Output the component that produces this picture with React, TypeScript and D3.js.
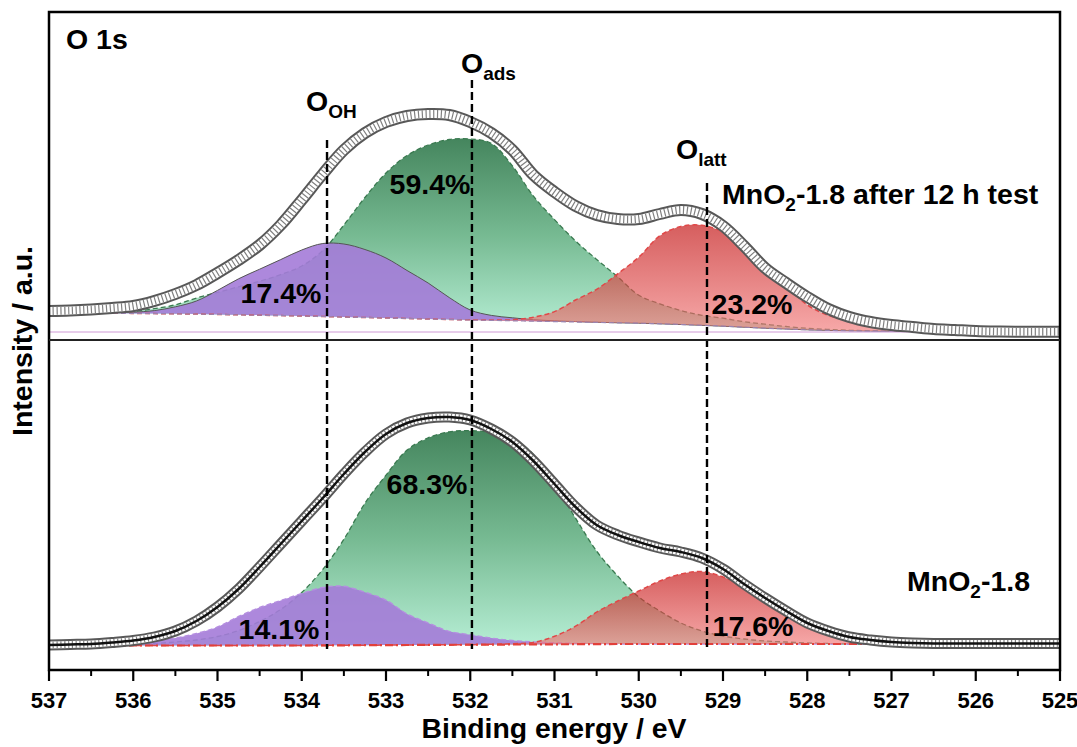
import React from "react";
import * as d3 from "d3";

// Binding energy grid (eV)
const energies = [537, 536.75, 536.5, 536.25, 536, 535.75, 535.5, 535.25, 535, 534.75, 534.5, 534.25, 534, 533.75, 533.5, 533.25, 533, 532.75, 532.5, 532.25, 532, 531.75, 531.5, 531.25, 531, 530.75, 530.5, 530.25, 530, 529.75, 529.5, 529.25, 529, 528.75, 528.5, 528.25, 528, 527.75, 527.5, 527.25, 527, 526.75, 526.5, 526.25, 526, 525.75, 525.5, 525.25, 525];

// Top panel: MnO2-1.8 after 12 h test
const topBackground = [27, 27, 27, 26.8, 26.6, 26.4, 26.2, 26, 25.6, 25.2, 24.8, 24.4, 24, 23.5, 23, 22.5, 22, 21.5, 21, 20.5, 20, 19.6, 19.2, 18.8, 18.4, 18, 17.6, 17.2, 16.8, 16.2, 15.5, 14.7, 13.8, 12.8, 11.8, 11, 10.2, 9.6, 9.2, 8.9, 8.7, 8.5, 8.3, 8.2, 8.2, 8.2, 8.2, 8.2, 8.2];
const topEnvelope = [29, 29.5, 30.5, 32, 34, 39, 46, 55, 67, 80, 95, 115, 140, 166, 190, 207, 218, 224, 226, 225, 218, 207, 190, 165, 148, 134, 125, 121, 121, 126, 130, 126, 114, 94, 72, 57, 43, 31, 23, 18, 15, 13, 11, 10, 9, 8.5, 8.3, 8.3, 8.3];
const topOH = [0, 0.3, 0.5, 0.8, 1.2, 3, 7, 13, 24, 36, 46, 56, 66, 73, 73, 68, 60, 48, 36, 22, 10, 5, 3, 1.5, 0.8, 0.4, 0.2, 0, 0, 0, 0, 0, 0, 0, 0, 0, 0, 0, 0, 0, 0, 0, 0, 0, 0, 0, 0, 0, 0];
const topAds = [0, 0.3, 0.6, 1.2, 2, 5, 9, 16, 22, 28, 34, 41, 50, 66, 92, 120, 145, 163, 174, 180, 181, 177, 155, 125, 102, 81, 63, 46, 28, 20, 14, 10, 8, 5.5, 4, 2.5, 1.5, 1, 0.6, 0.3, 0, 0, 0, 0, 0, 0, 0, 0, 0];
const topLatt = [0, 0, 0, 0, 0, 0, 0, 0, 0, 0, 0, 0, 0, 0, 0, 0, 0, 0, 0, 0, 0.2, 0.5, 1, 4, 10, 22, 33, 49, 66, 88, 98, 100, 94, 78, 62, 44, 25, 15, 10, 5, 2, 1, 0.5, 0, 0, 0, 0, 0, 0];

// Bottom panel: MnO2-1.8
const bottomBackground = [24.5, 24.5, 24.5, 24.5, 24.5, 24.5, 24.5, 24.5, 24.5, 24.5, 24.5, 24.5, 24.5, 24.6, 24.7, 24.8, 24.9, 25, 25.1, 25.2, 25.3, 25.4, 25.5, 25.6, 25.7, 25.8, 25.9, 26, 26, 26, 26, 26, 26, 26, 26, 26, 26, 26, 26, 26, 26, 26, 26, 26, 26, 26, 26, 26, 26];
const bottomEnvelope = [25, 25.5, 26, 27.5, 29.5, 33, 39, 49, 63, 81, 103, 126, 149, 172, 196, 218, 236, 247, 252, 253, 250, 241, 228, 209, 186, 163, 145, 135, 128, 122, 118, 112, 101, 86, 72, 59, 47, 39, 33, 30, 28, 27, 26.5, 26.5, 26.5, 26.5, 26.5, 26.5, 26.5];
const bottomOH = [0.2, 0.4, 0.8, 1.5, 3, 5, 7.5, 12, 18.5, 29, 38, 45, 52, 58, 59, 53, 45, 31, 22, 13.5, 10, 6.5, 4, 2.5, 1.5, 0.8, 0.4, 0, 0, 0, 0, 0, 0, 0, 0, 0, 0, 0, 0, 0, 0, 0, 0, 0, 0, 0, 0, 0, 0];
const bottomAds = [0, 0.2, 0.4, 0.5, 1, 2, 3.5, 5.5, 9, 15, 24, 36, 53, 76, 106, 142, 170, 195, 207, 213, 214, 212, 206, 190, 160, 126, 93, 68, 47, 33, 21, 13, 8, 5, 3, 2, 1, 0.5, 0, 0, 0, 0, 0, 0, 0, 0, 0, 0, 0];
const bottomLatt = [0, 0, 0, 0, 0, 0, 0, 0, 0, 0, 0, 0, 0, 0, 0, 0, 0, 0, 0, 0, 0, 0.3, 0.8, 2, 8, 18, 32, 43, 53, 63, 70, 72.5, 67, 57, 42, 30, 18, 10, 5, 2.5, 1, 0, 0, 0, 0, 0, 0, 0, 0];

// Peak assignments and reference energies
const peakSubscripts = ["OH", "ads", "latt"];
const peakEnergies = [533.7, 531.98, 529.19];
const topPercents = ["17.4%", "59.4%", "23.2%"];
const bottomPercents = ["14.1%", "68.3%", "17.6%"];
const sampleNames = ["MnO", "2", "-1.8 after 12 h test", "-1.8"];

const FONT = "'Liberation Sans', Arial, Helvetica, sans-serif";

export default function App() {
  const W = 1077, H = 747;
  const L = 49, R = 1060, T = 12, M = 340, B = 670;
  const x = d3.scaleLinear().domain([537, 525]).range([L, R]);
  const yTop = d3.scaleLinear().domain([0, M - T]).range([M, T]);
  const yBot = d3.scaleLinear().domain([0, B - M]).range([B, M]);
  const curve = d3.curveCatmullRom.alpha(0.5);

  const areaGen = (y: any, bg: number[]) =>
    d3.area<number>()
      .x((_, i) => x(energies[i]))
      .y0((_, i) => y(bg[i]))
      .y1((d, i) => y(bg[i] + d))
      .curve(curve);
  const topLine = (y: any, bg: number[]) =>
    d3.line<number>()
      .x((_, i) => x(energies[i]))
      .y((d, i) => y(bg[i] + d))
      .curve(curve);
  const plainLine = (y: any) =>
    d3.line<number>()
      .x((_, i) => x(energies[i]))
      .y((d) => y(d))
      .curve(curve);

  const zeros = energies.map(() => 0);

  const panel = (y: any, bg: number[], env: number[], oh: number[], ads: number[], latt: number[], isTop: boolean) => {
    const envPath = plainLine(y)(env) || "";
    return (
      <g>
        <path d={areaGen(y, bg)(ads) || ""} fill="url(#gGreen)" fillOpacity={0.95} />
        <path d={topLine(y, bg)(ads) || ""} fill="none" stroke="#3a7a50" strokeWidth={1.3} strokeDasharray="5 3" />
        <path d={areaGen(y, bg)(oh) || ""} fill="#a47bd8" fillOpacity={0.9} />
        <path d={topLine(y, bg)(oh) || ""} fill="none" stroke={isTop ? "#555" : "#b58ee0"} strokeWidth={isTop ? 1 : 1.4} strokeDasharray={isTop ? undefined : "5 3"} />
        <path d={areaGen(y, bg)(latt) || ""} fill="url(#gRed)" fillOpacity={0.65} />
        <path d={topLine(y, bg)(latt) || ""} fill="none" stroke="#e04848" strokeWidth={1.5} strokeDasharray="5 3" />
        {isTop ? (
          <g>
            <path d={topLine(y, bg)(zeros) || ""} fill="none" stroke="#9a84b0" strokeWidth={1.2} strokeDasharray="5 3" />
            <line x1={L} x2={R} y1={y(8)} y2={y(8)} stroke="#cf9ad6" strokeWidth={1} />
          </g>
        ) : (
          <path d={topLine(y, bg)(zeros) || ""} fill="none" stroke="#e2403a" strokeWidth={2.2} strokeDasharray="8 3 2 3" />
        )}
        <path d={envPath} fill="none" stroke="#585858" strokeWidth={isTop ? 12 : 11} />
        <path d={envPath} fill="none" stroke="#ffffff" strokeWidth={isTop ? 8 : 7} />
        <path d={envPath} fill="none" stroke="#808080" strokeWidth={isTop ? 8 : 7} strokeDasharray="1.2 2.6" />
        {!isTop && <path d={envPath} fill="none" stroke="#111" strokeWidth={2.5} />}
      </g>
    );
  };

  const majorTicks = x.ticks(12);
  const minorTicks = d3.range(525.5, 537, 1);

  const bigText = { fontFamily: FONT, fontWeight: 700, fontSize: 28.5, fill: "#000" } as const;

  const topPctPos = [[281, 303], [430, 194], [752, 314]];
  const botPctPos = [[279, 639], [427, 494], [753, 636]];
  const peakLabelPos = [[306, 111], [461, 73], [676, 159]];
  const vTops = [140, 80, 183];

  return (
    <svg width={W} height={H} style={{ position: "absolute", left: 0, top: 0, background: "#fff" }}>
      <defs>
        <linearGradient id="gGreen" x1="0" y1="0" x2="0" y2="1">
          <stop offset="0" stopColor="#3b7f55" />
          <stop offset="0.5" stopColor="#6fb68c" />
          <stop offset="1" stopColor="#b2edd2" />
        </linearGradient>
        <linearGradient id="gRed" x1="0" y1="0" x2="0" y2="1">
          <stop offset="0" stopColor="#c00808" />
          <stop offset="1" stopColor="#f27a7a" />
        </linearGradient>
        <clipPath id="clipTop"><rect x={L} y={T} width={R - L} height={M - T} /></clipPath>
        <clipPath id="clipBot"><rect x={L} y={M} width={R - L} height={B - M} /></clipPath>
      </defs>
      <rect x={0} y={0} width={W} height={H} fill="#fff" />

      <g clipPath="url(#clipTop)">{panel(yTop, topBackground, topEnvelope, topOH, topAds, topLatt, true)}</g>
      <g clipPath="url(#clipBot)">{panel(yBot, bottomBackground, bottomEnvelope, bottomOH, bottomAds, bottomLatt, false)}</g>

      {/* reference dashed lines */}
      {peakEnergies.map((e, i) => (
        <line key={"v" + i} x1={x(e)} x2={x(e)} y1={vTops[i]} y2={649} stroke="#000" strokeWidth={2.4} strokeDasharray="8 4" />
      ))}

      {/* frame */}
      <rect x={L} y={T} width={R - L} height={B - T} fill="none" stroke="#000" strokeWidth={2.5} />
      <line x1={L} x2={R} y1={M} y2={M} stroke="#222" strokeWidth={2} />

      {/* x ticks */}
      {majorTicks.map((t) => (
        <line key={"M" + t} x1={x(t)} x2={x(t)} y1={B} y2={B + 11} stroke="#000" strokeWidth={2.2} />
      ))}
      {minorTicks.map((t) => (
        <line key={"m" + t} x1={x(t)} x2={x(t)} y1={B} y2={B + 6} stroke="#000" strokeWidth={2} />
      ))}
      {majorTicks.map((t) => (
        <text key={"l" + t} x={x(t)} y={708} textAnchor="middle" fontFamily={FONT} fontWeight={700} fontSize={22}>
          {d3.format("d")(t)}
        </text>
      ))}

      {/* axis titles */}
      <text x={(421 + 687) / 2} y={738} textAnchor="middle" {...bigText} textLength={265} lengthAdjust="spacingAndGlyphs">
        Binding energy / eV
      </text>
      <text transform={`translate(32, ${(T + B) / 2}) rotate(-90)`} textAnchor="middle" {...bigText}>
        Intensity / a.u.
      </text>

      {/* panel labels */}
      <text x={66} y={49} {...bigText}>O 1s</text>
      <text x={722} y={204} {...bigText}>
        <tspan>{sampleNames[0]}</tspan>
        <tspan dy={7} fontSize={19}>{sampleNames[1]}</tspan>
        <tspan dy={-7}>{sampleNames[2]}</tspan>
      </text>
      <text x={907} y={591} {...bigText}>
        <tspan>{sampleNames[0]}</tspan>
        <tspan dy={7} fontSize={19}>{sampleNames[1]}</tspan>
        <tspan dy={-7}>{sampleNames[3]}</tspan>
      </text>

      {/* peak labels */}
      {peakSubscripts.map((s, i) => (
        <text key={"p" + i} x={peakLabelPos[i][0]} y={peakLabelPos[i][1]} {...bigText}>
          <tspan>O</tspan>
          <tspan dy={7} fontSize={19}>{s}</tspan>
        </text>
      ))}

      {/* percentages */}
      {topPercents.map((p, i) => (
        <text key={"tp" + i} x={topPctPos[i][0]} y={topPctPos[i][1]} textAnchor="middle" {...bigText}>{p}</text>
      ))}
      {bottomPercents.map((p, i) => (
        <text key={"bp" + i} x={botPctPos[i][0]} y={botPctPos[i][1]} textAnchor="middle" {...bigText}>{p}</text>
      ))}
    </svg>
  );
}
